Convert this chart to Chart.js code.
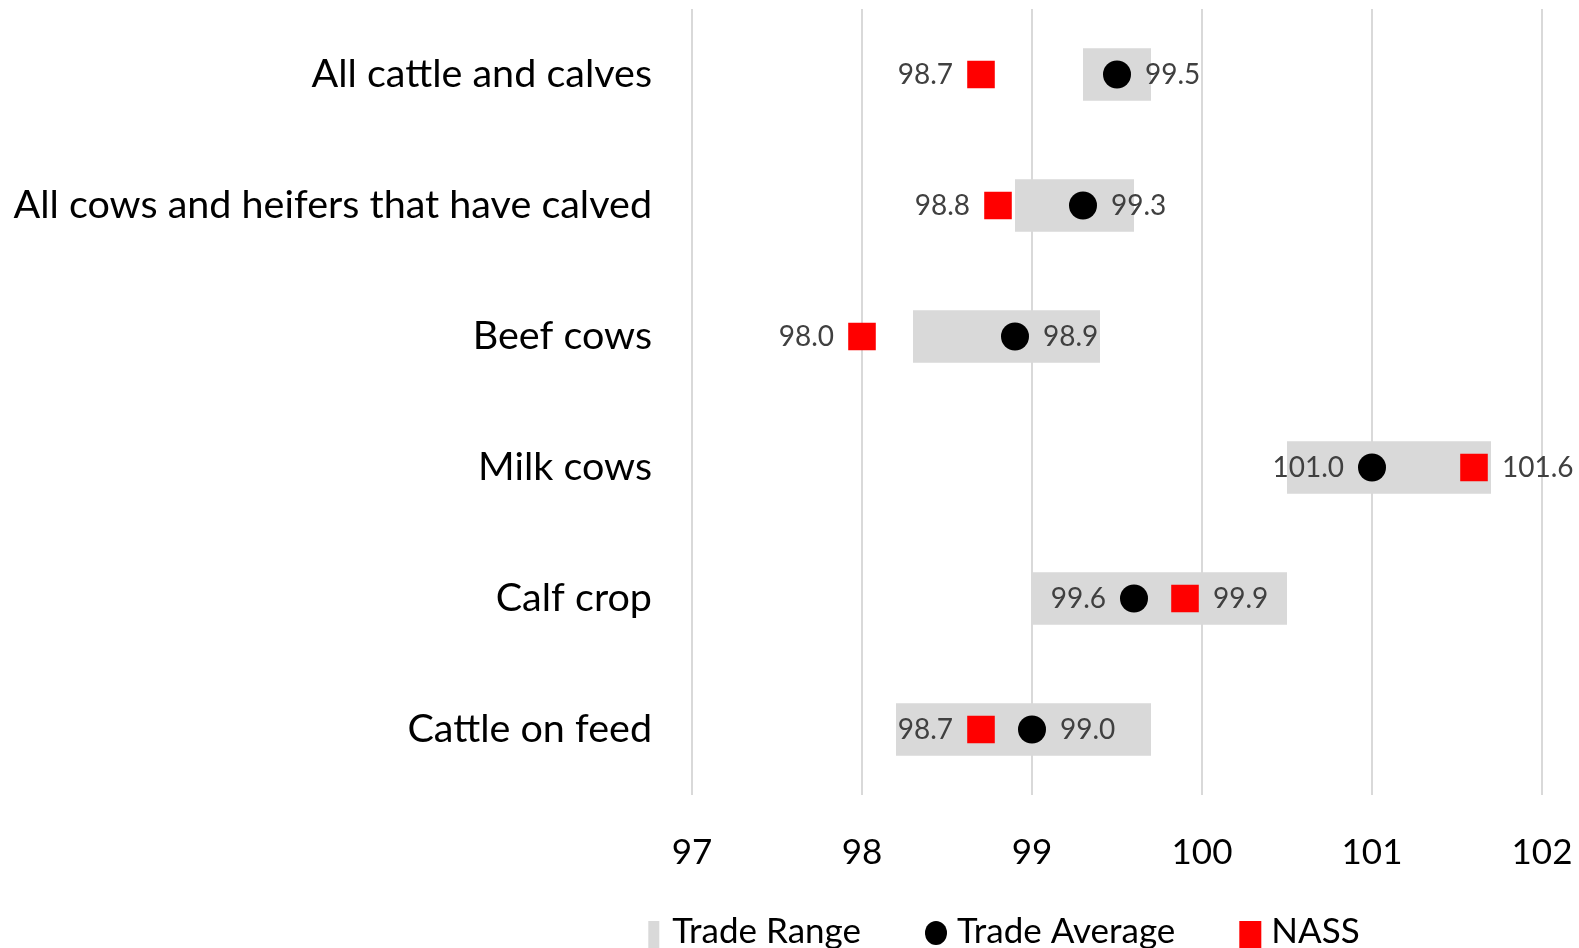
<!DOCTYPE html>
<html>
<head>
<meta charset="utf-8">
<script src="https://cdn.jsdelivr.net/npm/chart.js@4.4.1/dist/chart.umd.min.js"></script>
<style>
  html, body { margin: 0; padding: 0; background: #fff; overflow: hidden; }
  #wrap { width: 1579px; height: 948px; overflow: hidden; }
</style>
</head>
<body>
<div id="wrap"><canvas id="chart1" width="1579" height="948"></canvas></div>
<script>
const categories = [
    'All cattle and calves',
    'All cows and heifers that have calved',
    'Beef cows',
    'Milk cows',
    'Calf crop',
    'Cattle on feed'
];
const rangeLow = [99.3, 98.9, 98.3, 100.5, 99.0, 98.2];
const rangeHigh = [99.7, 99.6, 99.4, 101.7, 100.5, 99.7];
const tradeAvg = [99.5, 99.3, 98.9, 101.0, 99.6, 99.0];
const nass = [98.7, 98.8, 98.0, 101.6, 99.9, 98.7];
const xMin = 97;
const xMax = 102;

const FONT = "Lato, 'Open Sans', sans-serif";

// labels go on the outer side of each pair of markers
const pointLabels = {
    id: 'pointLabels',
    afterDatasetsDraw(chart) {
        const ctx = chart.ctx;
        ctx.save();
        ctx.font = '28px ' + FONT;
        ctx.fillStyle = '#404040';
        ctx.textBaseline = 'middle';
        [1, 2].forEach(di => {
            const other = di === 1 ? 2 : 1;
            const meta = chart.getDatasetMeta(di);
            const vals = chart.data.datasets[di].data;
            const otherVals = chart.data.datasets[other].data;
            meta.data.forEach((pt, i) => {
                const left = vals[i] < otherVals[i];
                ctx.textAlign = left ? 'right' : 'left';
                const x = left ? pt.x - 28 : pt.x + 28;
                ctx.fillText(vals[i].toFixed(1), x, pt.y);
            });
        });
        ctx.restore();
    }
};

// bottom legend, drawn by hand so the marker sizes can match
const bottomLegend = {
    id: 'bottomLegend',
    afterDraw(chart) {
        const ctx = chart.ctx;
        const ds = chart.data.datasets;
        const base = 943;
        ctx.save();
        ctx.font = '35px ' + FONT;
        ctx.textBaseline = 'alphabetic';
        ctx.textAlign = 'left';
        const widths = ds.map(d => ctx.measureText(d.label).width);
        const mark = 22, gap = 10, itemGap = 64;
        const total = widths.reduce((a, b) => a + b, 0) + ds.length * (mark + gap) + (ds.length - 1) * itemGap;
        let x = 1000 - total / 2;
        ds.forEach((d, i) => {
            ctx.fillStyle = d.backgroundColor;
            if (d.type === 'bar') {
                ctx.fillRect(x + 8, 921, 11, 40);
            } else if (d.pointStyle === 'circle') {
                ctx.beginPath();
                ctx.ellipse(x + mark / 2, 933, 11, 12, 0, 0, Math.PI * 2);
                ctx.fill();
            } else {
                ctx.fillRect(x, 921, mark, 40);
            }
            x += mark + gap;
            ctx.fillStyle = '#000';
            ctx.fillText(d.label, x, base);
            x += widths[i] + itemGap;
        });
        ctx.restore();
    }
};

const data = {
    labels: categories,
    datasets: [
        {
            type: 'bar',
            label: 'Trade Range',
            data: rangeLow.map((v, i) => [v, rangeHigh[i]]),
            backgroundColor: '#d9d9d9',
            borderWidth: 0,
            barPercentage: 0.4,
            categoryPercentage: 1,
            order: 3
        },
        {
            type: 'line',
            label: 'Trade Average',
            data: tradeAvg,
            indexAxis: 'y',
            showLine: false,
            pointStyle: 'circle',
            pointRadius: 14,
            pointBackgroundColor: '#000000',
            pointBorderWidth: 0,
            backgroundColor: '#000000',
            borderColor: '#000000',
            order: 2
        },
        {
            type: 'line',
            label: 'NASS',
            data: nass,
            indexAxis: 'y',
            showLine: false,
            pointStyle: 'rect',
            pointRadius: 19.5,
            pointBackgroundColor: '#ff0000',
            pointBorderWidth: 0,
            backgroundColor: '#ff0000',
            borderColor: '#ff0000',
            order: 1
        }
    ]
};

const config1 = {
    type: 'bar',
    data: data,
    plugins: [pointLabels, bottomLegend],
    options: {
        indexAxis: 'y',
        responsive: false,
        animation: false,
        devicePixelRatio: 1,
        layout: {
            autoPadding: false,
            padding: { top: 9, right: 37, left: 0, bottom: 66 }
        },
        plugins: {
            tooltip: { enabled: false },
            legend: { display: false }
        },
        scales: {
            x: {
                type: 'linear',
                min: xMin,
                max: xMax,
                ticks: {
                    stepSize: 1,
                    color: '#000',
                    padding: 37,
                    font: { family: FONT, size: 35 }
                },
                grid: {
                    color: '#d9d9d9',
                    lineWidth: 2,
                    drawTicks: false
                },
                border: { display: false },
                afterFit: (s) => { s.height = 87; s.paddingLeft = 0; s.paddingRight = 0; }
            },
            y: {
                type: 'category',
                ticks: {
                    color: '#000',
                    padding: 32,
                    font: { family: FONT, size: 39.5 }
                },
                grid: { display: false },
                border: { display: false },
                afterFit: (s) => { s.width = 692; s.paddingTop = 0; s.paddingBottom = 0; }
            }
        }
    }
};

const myChart1 = new Chart(document.getElementById('chart1'), config1);
</script>
</body>
</html>
